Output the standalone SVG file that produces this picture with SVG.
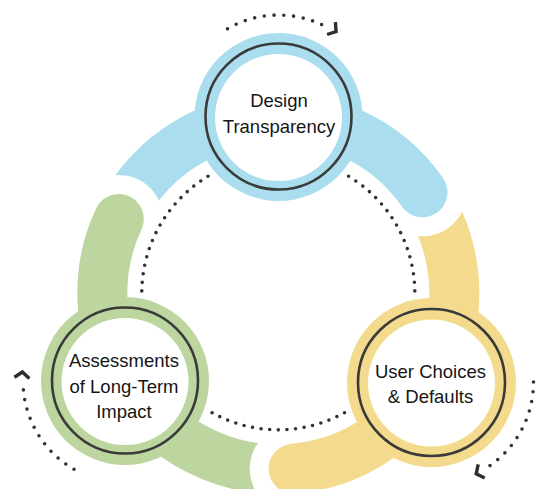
<svg xmlns="http://www.w3.org/2000/svg" width="538" height="489" viewBox="0 0 538 489">
  <defs>
    <style>
      .dots{fill:none;stroke:#333;stroke-width:3.6;stroke-linecap:round;stroke-dasharray:0 0.9999}
      .chev{fill:none;stroke:#2e2e2e;stroke-width:3.4;stroke-linejoin:miter;stroke-linecap:butt}
      .band{fill:none;stroke-width:50;stroke-linecap:round}
      .ring{fill:none;stroke:#3a3a3a;stroke-width:2.6}
      .hole{fill:#fff}
      .label{font-family:"Liberation Sans",Arial,sans-serif;font-size:18.5px;fill:#151515;text-anchor:middle}
      .blue-s{stroke:#aadeef}.blue-f{fill:#aadeef}
      .yellow-s{stroke:#f3da8c}.yellow-f{fill:#f3da8c}
      .green-s{stroke:#bdd6a0}.green-f{fill:#bdd6a0}
    </style>
    <!-- each band start is cut back around the previous band's rounded end -->
    <mask id="cut-at-green" maskUnits="userSpaceOnUse" x="0" y="0" width="538" height="489">
      <rect width="538" height="489" fill="#fff"/>
      <circle cx="118.8" cy="218.9" r="44" fill="#000"/>
    </mask>
    <mask id="cut-at-blue" maskUnits="userSpaceOnUse" x="0" y="0" width="538" height="489">
      <rect width="538" height="489" fill="#fff"/>
      <circle cx="422.5" cy="192.3" r="44" fill="#000"/>
    </mask>
    <mask id="cut-at-yellow" maskUnits="userSpaceOnUse" x="0" y="0" width="538" height="489">
      <rect width="538" height="489" fill="#fff"/>
      <circle cx="293.6" cy="468.6" r="44" fill="#000"/>
    </mask>
  </defs>

  <g id="connectors">
    <!-- inner dotted ring between the three nodes -->
    <path class="dots" pathLength="16" d="M348.6,176.3 A136.5,136.5 0 0 1 414.8,290.9"/>
    <path class="dots" pathLength="16" d="M344.5,412.7 A136.5,136.5 0 0 1 212.1,412.7"/>
    <path class="dots" pathLength="16" d="M141.8,290.9 A136.5,136.5 0 0 1 208.0,176.3"/>
    <!-- outer clockwise arrows -->
    <path class="dots" pathLength="10" d="M227.5,28.7 A102,102 0 0 1 321.6,24.6"/>
    <polyline class="chev" points="335.4,22.1 336.1,31.6 327.1,34.5"/>
    <path class="dots" pathLength="10" d="M74,469.3 A102,102 0 0 1 23.4,389.9"/>
    <polyline class="chev" points="14.4,377.2 22.4,372 29.3,378.5"/>
    <path class="dots" pathLength="10" d="M533.5,382 A102,102 0 0 1 490,465.6"/>
    <polyline class="chev" points="478.2,464.4 476.2,473.7 484.7,477.9"/>
  </g>

  <g id="design-transparency">
    <path class="band blue-s" mask="url(#cut-at-green)" d="M118.8,218.9 A176,176 0 0 1 422.5,192.3"/>
    <circle class="blue-f" cx="278.5" cy="117" r="84"/>
    <circle class="hole" cx="278.5" cy="117.5" r="63.5"/>
    <circle class="ring" cx="278.5" cy="116.5" r="73"/>
    <text class="label" x="279" y="107">Design</text>
    <text class="label" x="279" y="132.5">Transparency</text>
  </g>

  <g id="user-choices">
    <path class="band yellow-s" mask="url(#cut-at-blue)" d="M422.5,192.3 A176,176 0 0 1 293.6,468.6"/>
    <circle class="yellow-f" cx="431.5" cy="382.5" r="84.5"/>
    <circle class="hole" cx="431.5" cy="383" r="63.5"/>
    <circle class="ring" cx="431.5" cy="382.5" r="73.5"/>
    <text class="label" x="430.5" y="378">User Choices</text>
    <text class="label" x="430.5" y="403">&amp; Defaults</text>
  </g>

  <g id="long-term-impact">
    <path class="band green-s" mask="url(#cut-at-yellow)" d="M293.6,468.6 A176,176 0 0 1 118.8,218.9"/>
    <circle class="green-f" cx="125" cy="381" r="84"/>
    <circle class="hole" cx="125" cy="381.5" r="63.5"/>
    <circle class="ring" cx="125" cy="380.5" r="73"/>
    <text class="label" x="124" y="367">Assessments</text>
    <text class="label" x="124" y="392.5">of Long-Term</text>
    <text class="label" x="124" y="418">Impact</text>
  </g>
</svg>
